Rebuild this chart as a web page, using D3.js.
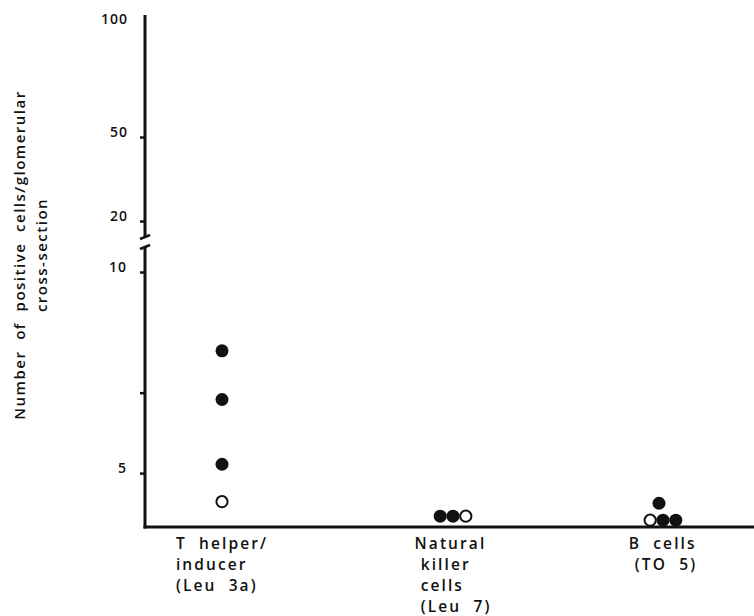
<!DOCTYPE html>
<html>
<head>
<meta charset="utf-8">
<script src="https://cdn.jsdelivr.net/npm/d3@7"></script>
<style>
	body { margin: 0; background: #fff; }
	text { font-family: "Open Sans", sans-serif; font-weight: 600; fill: #111; }
	.tick line { stroke: #111; stroke-width: 2.5; }
</style>
</head>
<body>
<svg></svg>
<script>
	var width = 754, height = 616;

	// data
	var categories = ["T helper", "Natural killer", "B cells"];
	var catLabels = [
		["T  helper/", "inducer", "(Leu  3a)"],
		["Natural", " killer", " cells", " (Leu  7)"],
		["B  cells", " (TO  5)"]
	];
	var pointCategory = ["T helper", "T helper", "T helper", "T helper",
		"Natural killer", "Natural killer", "Natural killer",
		"B cells", "B cells", "B cells", "B cells"];
	var pointValue = [8.04, 6.83, 5.22, 4.29,
		3.93, 3.93, 3.93,
		4.25, 3.83, 3.83, 3.83];
	var pointFilled = [true, true, true, false,
		true, true, false,
		true, false, true, true];
	var upperTicks = [20, 50, 100];
	var lowerTicks = [5, 7, 10];
	var lowerLabels = ["5", "", "10"];

	var axisX = 145;
	var svg = d3.select("svg").attr("width", width).attr("height", height);

	var yLow = d3.scaleLinear().domain([3.66, 10]).range([527, 272]);
	var yHigh = d3.scaleLinear().domain([20, 50, 100]).range([221, 137, 24]);
	var x = d3.scaleOrdinal().domain(categories).range([222, 453, 663]);

	// axis lines
	svg.append("line").attr("x1", axisX).attr("x2", axisX)
		.attr("y1", yHigh(100) - 9).attr("y2", yHigh(20) + 16)
		.attr("stroke", "#111").attr("stroke-width", 3);
	svg.append("line").attr("x1", axisX).attr("x2", axisX)
		.attr("y1", yLow(10) - 25).attr("y2", yLow(3.66) + 1.5)
		.attr("stroke", "#111").attr("stroke-width", 3);
	svg.append("line").attr("x1", axisX - 1.5).attr("x2", width)
		.attr("y1", yLow(3.66)).attr("y2", yLow(3.66))
		.attr("stroke", "#111").attr("stroke-width", 3);

	// break marks
	[yHigh(20) + 16, yLow(10) - 25].forEach(function (yy) {
		svg.append("line").attr("x1", axisX - 5).attr("x2", axisX + 5)
			.attr("y1", yy + 2).attr("y2", yy - 2)
			.attr("stroke", "#111").attr("stroke-width", 2.5);
	});

	var upper = svg.append("g").attr("transform", "translate(" + axisX + ",0)")
		.call(d3.axisLeft(yHigh).tickValues(upperTicks).tickSize(5).tickPadding(12)
			.tickFormat(d3.format("d")));
	var lower = svg.append("g").attr("transform", "translate(" + axisX + ",0)")
		.call(d3.axisLeft(yLow).tickValues(lowerTicks).tickSize(5).tickPadding(13)
			.tickFormat(function (d, i) { return lowerLabels[i]; }));
	[upper, lower].forEach(function (g) {
		g.select(".domain").remove();
		g.selectAll("text").attr("font-size", 14).attr("dy", "-0.05em")
			.attr("font-family", "Open Sans").attr("font-weight", 700)
			.attr("letter-spacing", 1);
	});
	upper.selectAll(".tick").filter(function (d) { return d === 100; })
		.select("line").remove();

	// points: spread dots sharing a value side by side
	var points = pointValue.map(function (v, i) {
		return { cat: pointCategory[i], value: v, filled: pointFilled[i] };
	});
	var groups = d3.group(points, function (d) { return d.cat + "|" + d.value; });
	groups.forEach(function (arr) {
		arr.forEach(function (d, j) { d.offset = (j - (arr.length - 1) / 2) * 12.8; });
	});
	svg.selectAll("circle.dot").data(points).enter().append("circle")
		.attr("class", "dot")
		.attr("cx", function (d) { return x(d.cat) + d.offset - (d.value > 4.1 && d.cat === "B cells" ? 4 : 0); })
		.attr("cy", function (d) { return yLow(d.value); })
		.attr("r", function (d) { return d.filled ? 6.5 : 5.6; })
		.attr("fill", function (d) { return d.filled ? "#111" : "#fff"; })
		.attr("stroke", "#111")
		.attr("stroke-width", function (d) { return d.filled ? 0 : 2; });

	// category labels, one text per line, left-aligned block centred on category
	categories.forEach(function (c, i) {
		var g = svg.append("g");
		catLabels[i].forEach(function (line, k) {
			g.append("text").attr("font-size", 15.5).attr("letter-spacing", 2.1)
				.attr("y", 549 + k * 21)
				.style("white-space", "pre").text(line);
		});
		var w = d3.max(g.selectAll("text").nodes(), function (n) { return n.getComputedTextLength(); });
		g.selectAll("text").attr("x", x(c) - w / 2);
	});

	// y axis title
	var title = ["Number  of  positive  cells/glomerular", "cross-section"];
	title.forEach(function (s, k) {
		svg.append("text")
			.attr("transform", "translate(" + (20 + k * 22) + ",255) rotate(-90)")
			.attr("text-anchor", "middle").attr("dy", "0.35em")
			.attr("font-size", 15).attr("letter-spacing", 1.5)
			.attr("font-weight", 500)
			.style("white-space", "pre").text(s);
	});
</script>
</body>
</html>
